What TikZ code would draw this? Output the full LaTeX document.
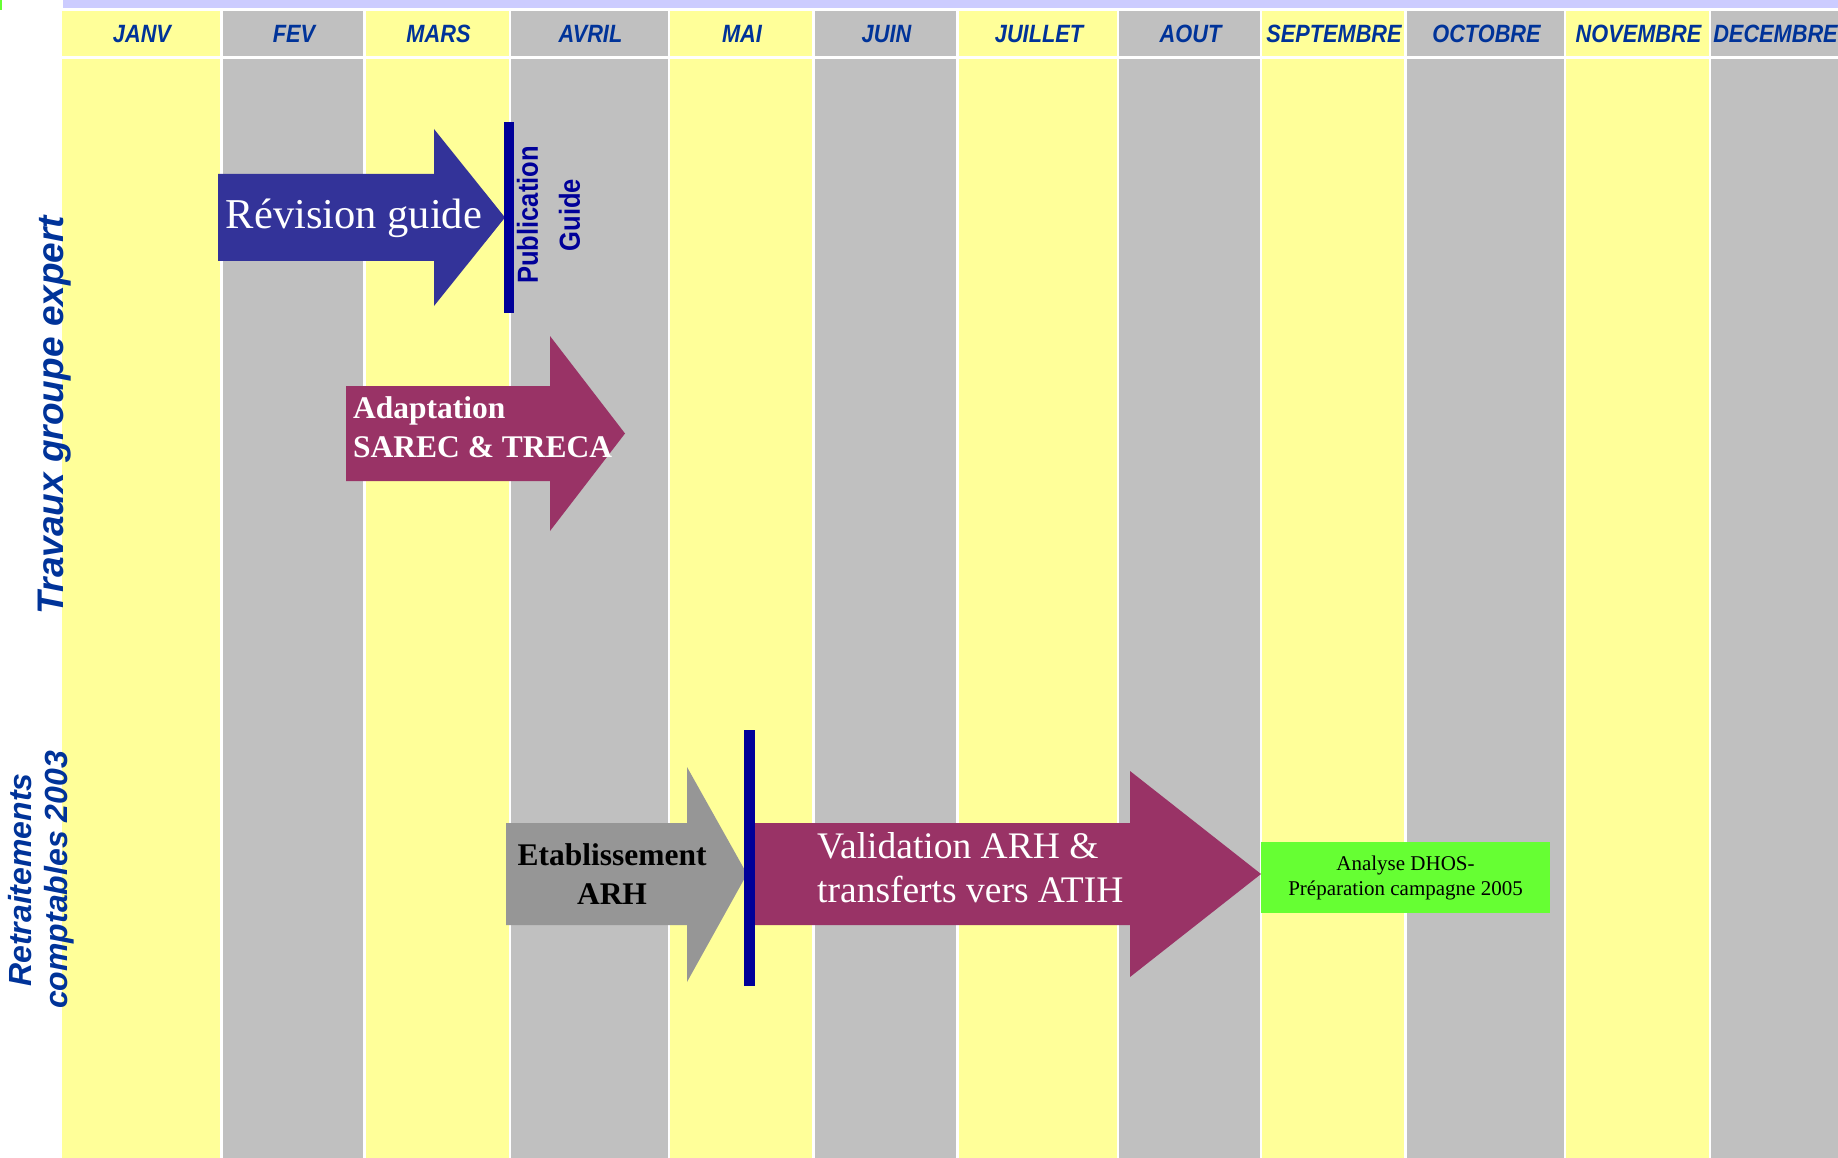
\documentclass[tikz,border=0pt]{standalone}
\usepackage{fontspec}
\setmainfont{Liberation Serif}
\setsansfont{Liberation Sans}
\usetikzlibrary{positioning}
\definecolor{colyellow}{HTML}{FFFF99}
\definecolor{colgray}{HTML}{C0C0C0}
\definecolor{lavender}{HTML}{CCCCFF}
\definecolor{monthblue}{HTML}{003399}
\definecolor{barblue}{HTML}{000099}
\definecolor{revblue}{HTML}{333399}
\definecolor{plum}{HTML}{993366}
\definecolor{arhgray}{HTML}{969696}
\definecolor{dhosgreen}{HTML}{66FF33}

\begin{document}
\begin{tikzpicture}[x=1pt,y=-1pt,
  month/.style={anchor=base,inner sep=0pt,text=monthblue,font=\sffamily\bfseries\itshape\fontsize{25}{28}\selectfont},
  rowlabel/.style={rotate=90,inner sep=0pt,align=center,text=monthblue},
  arrowtext/.style={inner sep=0pt}]
\useasboundingbox (0,0) rectangle (1838,1158);
\fill[white] (0,0) rectangle (1838,1158);
\fill[dhosgreen] (0,0) rectangle (1.5,10);
\fill[lavender] (63,0) rectangle (1838,8);
% month columns
\foreach \xa/\xb/\mname/\mcol [count=\i] in {62/220/JANV/colyellow, 223/363/FEV/colgray,
  366/509/MARS/colyellow, 511/668/AVRIL/colgray, 670/812/MAI/colyellow, 815/956/JUIN/colgray,
  959/1117/JUILLET/colyellow, 1119/1260/AOUT/colgray, 1262/1404/SEPTEMBRE/colyellow,
  1407/1564/OCTOBRE/colgray, 1566/1709/NOVEMBRE/colyellow, 1711/1838/DECEMBRE/colgray} {
  \fill[\mcol] (\xa,11) rectangle (\xb,56);
  \fill[\mcol] (\xa,59) rectangle (\xb,1158);
  \node[month] (m\i) at ({(\xa+\xb)/2+1},43) {\scalebox{0.87}[1]{\mname}};
}
% row labels
\node[rowlabel,anchor=base,font=\sffamily\bfseries\itshape\fontsize{37}{44}\selectfont] (travaux) at (63,415) {Travaux groupe expert};
\node[rowlabel,font=\sffamily\bfseries\itshape\fontsize{32}{36}\selectfont] (retrait) at (41,880) {Retraitements\\comptables 2003};
% expert group
\fill[revblue] (218,174) -- (434,174) -- (434,129) -- (505,217.5) -- (434,306) -- (434,261) -- (218,261) -- cycle;
\node[arrowtext,anchor=base,text=white,font=\fontsize{42.5}{48}\selectfont] (revision) at (354,229) {Révision guide};
\fill[barblue] (504,122) rectangle (514,313);
\node[rotate=90,inner sep=0pt,align=center,text=barblue,font=\sffamily\bfseries\fontsize{29}{42}\selectfont] (publication) at (548.5,215)
  {\scalebox{0.88}[1]{Publication}\\\scalebox{0.88}[1]{Guide}};
\fill[plum] (346,386) -- (550,386) -- (550,336) -- (625,433.5) -- (550,531) -- (550,481) -- (346,481) -- cycle;
\node[arrowtext,anchor=west,align=left,text=white,font=\bfseries\fontsize{31.5}{39}\selectfont] (adaptation) at (353,427)
  {Adaptation\\SAREC \& TRECA};
% retraitements
\fill[arhgray] (506,823) -- (687,823) -- (687,767) -- (747,874) -- (687,982) -- (687,925) -- (506,925) -- cycle;
\node[arrowtext,align=center,font=\bfseries\fontsize{31.5}{39}\selectfont] (etab) at (612,874) {Etablissement\\ARH};
\fill[plum] (755,823) -- (1130,823) -- (1130,771) -- (1261,874) -- (1130,977) -- (1130,925) -- (755,925) -- cycle;
\fill[barblue] (744,730) rectangle (755,986);
\node[arrowtext,anchor=west,align=left,text=white,font=\fontsize{37.5}{44}\selectfont] (validation) at (817,868)
  {Validation ARH \&\\transferts vers ATIH};
\node[fill=dhosgreen,minimum width=289,minimum height=71,inner sep=0pt,align=center,font=\fontsize{21}{25}\selectfont] (dhos) at (1405.5,877.5)
  {\raisebox{-2pt}{Analyse DHOS-}\\\raisebox{-2pt}{Préparation campagne 2005}};
\end{tikzpicture}
\end{document}
